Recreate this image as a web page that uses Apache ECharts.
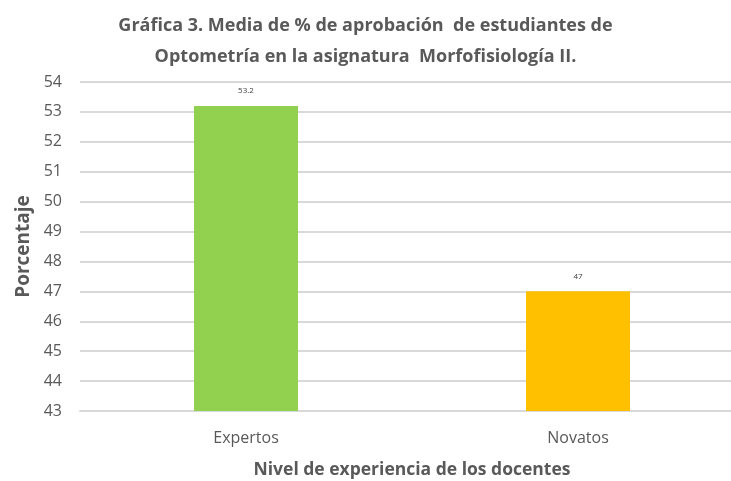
<!DOCTYPE html>
<html>
<head>
<meta charset="utf-8">
<script src="https://cdn.jsdelivr.net/npm/echarts@6/dist/echarts.min.js"></script>
<style>
html,body{margin:0;padding:0;background:#fff;}
#container{width:731px;height:481px;}
</style>
</head>
<body>
<div id="container"></div>
<script>
var categories = ['Expertos', 'Novatos'];
var values = [53.2, 47];
var barColors = ['#92d050', '#ffc000'];

var dom = document.getElementById('container');
var myChart = echarts.init(dom);
var font = '"Open Sans", sans-serif';

var option = {
    title: {
        text: 'Gráfica 3. Media de % de aprobación  de estudiantes de\nOptometría en la asignatura  Morfofisiología II.',
        left: 'center',
        top: 5,
        textStyle: {
            fontFamily: font,
            fontSize: 18,
            fontWeight: 'bold',
            color: '#595959',
            lineHeight: 31
        }
    },
    grid: {
        left: 80,
        top: 82,
        width: 664,
        height: 329,
        outerBoundsMode: 'none',
        containLabel: false
    },
    xAxis: {
        type: 'category',
        data: categories,
        name: 'Nivel de experiencia de los docentes',
        nameLocation: 'middle',
        nameGap: 50,
        nameTextStyle: {
            fontFamily: font,
            fontSize: 17.5,
            fontWeight: 'bold',
            color: '#595959'
        },
        axisLine: { lineStyle: { color: '#d9d9d9', width: 2 } },
        axisTick: { show: false },
        axisLabel: {
            fontFamily: font,
            fontSize: 16,
            color: '#595959',
            margin: 19
        }
    },
    yAxis: {
        type: 'value',
        min: 43,
        max: 54,
        interval: 1,
        name: 'Porcentaje',
        nameLocation: 'middle',
        nameGap: 47,
        nameTextStyle: {
            fontFamily: font,
            fontSize: 19,
            fontWeight: 'bold',
            color: '#595959'
        },
        axisLine: { show: false },
        axisTick: { show: false },
        splitLine: { lineStyle: { color: '#d9d9d9', width: 2 } },
        axisLabel: {
            fontFamily: font,
            fontSize: 16,
            color: '#595959',
            margin: 18
        }
    },
    series: [
        {
            type: 'bar',
            barWidth: 104,
            data: values.map(function (v, i) {
                return { value: v, itemStyle: { color: barColors[i] } };
            }),
            label: {
                show: true,
                position: 'top',
                distance: 11,
                fontFamily: font,
                fontSize: 8,
                color: '#404040'
            }
        }
    ]
};

myChart.setOption(option, true);
</script>
</body>
</html>
